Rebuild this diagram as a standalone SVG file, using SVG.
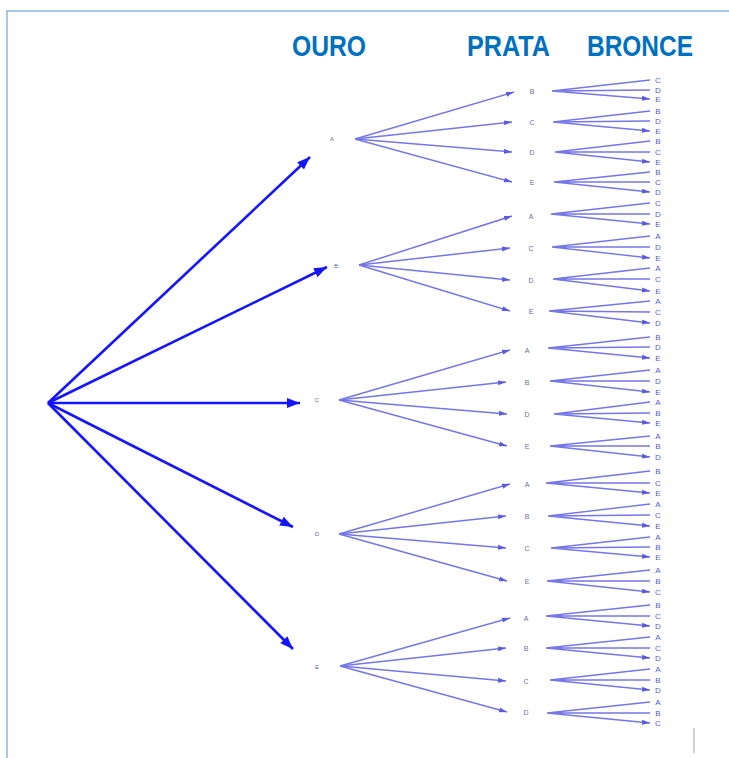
<svg xmlns="http://www.w3.org/2000/svg" width="729" height="758" viewBox="0 0 729 758">
<defs>
<marker id="big" markerUnits="userSpaceOnUse" markerWidth="14" markerHeight="10" refX="13" refY="5" orient="auto"><path d="M0,0 L13,5 L0,10 z" fill="#1414ff"/></marker>
<marker id="small" markerUnits="userSpaceOnUse" markerWidth="9" markerHeight="6" refX="8" refY="3" orient="auto"><path d="M0,0.5 L8,3 L0,5.5 z" fill="#5a5ae6"/></marker>
<style>
.hdr{font-family:"Liberation Sans Narrow","Liberation Sans",sans-serif;font-weight:bold;font-size:29px;fill:#0070c0}
.l1{stroke:#1414ff;stroke-width:2.6;fill:none;marker-end:url(#big)}
.l2{stroke:#7676e6;stroke-width:1.5;fill:none;marker-end:url(#small)}
.l3{stroke:#7676e6;stroke-width:1.4;fill:none;marker-end:url(#small)}
.t1{font-family:"Liberation Sans",sans-serif;font-size:6px;fill:#6a6a9c;text-anchor:middle}
.t2{font-family:"Liberation Sans",sans-serif;font-size:7px;fill:#6e6e94;text-anchor:middle}
.t3{font-family:"Liberation Sans",sans-serif;font-size:8px;fill:#5a5ad8;text-anchor:middle}
</style>
</defs>
<rect width="729" height="758" fill="#ffffff"/>
<g id="frame">
<path d="M7,758 L7,11 L729,11" fill="none" stroke="#8db3e2" stroke-width="1.5"/>
<path d="M694,728 L694,753" stroke="#a0a0a0" stroke-width="1"/>
</g>
<g id="headers">
<text class="hdr" x="292" y="56" textLength="74" lengthAdjust="spacingAndGlyphs">OURO</text>
<text class="hdr" x="467" y="56" textLength="83" lengthAdjust="spacingAndGlyphs">PRATA</text>
<text class="hdr" x="587" y="56" textLength="106" lengthAdjust="spacingAndGlyphs">BRONCE</text>
</g>
<g id="connectors">
<path class="l1" d="M48,403 L310,157"/>
<path class="l1" d="M48,403 L327,267"/>
<path class="l1" d="M48,403 L300,403"/>
<path class="l1" d="M48,403 L293,527"/>
<path class="l1" d="M48,403 L293,649"/>

<path class="l2" d="M355,139 L514,92"/>
<path class="l2" d="M355,139 L512,122"/>
<path class="l2" d="M355,139 L512,152"/>
<path class="l2" d="M355,139 L512,182"/>
<path class="l2" d="M359,265 L512,216"/>
<path class="l2" d="M359,265 L510,248"/>
<path class="l2" d="M359,265 L510,280"/>
<path class="l2" d="M359,265 L510,311"/>
<path class="l2" d="M339,400 L510,350"/>
<path class="l2" d="M339,400 L506,382"/>
<path class="l2" d="M339,400 L507,414"/>
<path class="l2" d="M339,400 L507,446"/>
<path class="l2" d="M339,534 L510,484"/>
<path class="l2" d="M339,534 L506,516"/>
<path class="l2" d="M339,534 L506,548"/>
<path class="l2" d="M339,534 L507,581"/>
<path class="l2" d="M340,666 L510,618"/>
<path class="l2" d="M340,666 L506,648"/>
<path class="l2" d="M340,666 L506,681"/>
<path class="l2" d="M340,666 L507,712"/>

<path class="l3" d="M552,91 L650,80 M552,91 L650,90 M552,91 L650,99"/>
<path class="l3" d="M553,122 L650,111 M553,122 L650,121 M553,122 L650,131"/>
<path class="l3" d="M555,152 L650,141 M555,152 L650,152 M555,152 L650,162"/>
<path class="l3" d="M554,182 L650,172 M554,182 L650,182 M554,182 L650,192"/>
<path class="l3" d="M551,214 L650,203 M551,214 L650,214 M551,214 L650,224"/>
<path class="l3" d="M552,247 L650,236 M552,247 L650,247 M552,247 L650,258"/>
<path class="l3" d="M553,279 L650,268 M553,279 L650,279 M553,279 L650,291"/>
<path class="l3" d="M549,311 L650,301 M549,311 L650,312 M549,311 L650,323"/>
<path class="l3" d="M548,348 L650,337 M548,348 L650,347 M548,348 L650,358"/>
<path class="l3" d="M550,381 L650,370 M550,381 L650,381 M550,381 L650,392"/>
<path class="l3" d="M554,414 L650,402 M554,414 L650,413 M554,414 L650,423"/>
<path class="l3" d="M550,446 L650,436 M550,446 L650,446 M550,446 L650,457"/>
<path class="l3" d="M546,483 L650,471 M546,483 L650,483 M546,483 L650,493"/>
<path class="l3" d="M548,516 L650,504 M548,516 L650,515 M548,516 L650,526"/>
<path class="l3" d="M551,548 L650,537 M551,548 L650,547 M551,548 L650,557"/>
<path class="l3" d="M547,581 L650,570 M547,581 L650,581 M547,581 L650,592"/>
<path class="l3" d="M546,616 L650,605 M546,616 L650,616 M546,616 L650,626"/>
<path class="l3" d="M546,648 L650,637 M546,648 L650,648 M546,648 L650,658"/>
<path class="l3" d="M550,680 L650,669 M550,680 L650,680 M550,680 L650,690"/>
<path class="l3" d="M547,713 L650,702 M547,713 L650,713 M547,713 L650,723"/>
</g>

<g id="n-A"><text class="t1" x="332" y="141">A</text></g>
<g id="n-B"><text class="t1" x="336" y="268">B</text></g>
<g id="n-C"><text class="t1" x="317" y="402">C</text></g>
<g id="n-D"><text class="t1" x="317" y="536">D</text></g>
<g id="n-E"><text class="t1" x="317" y="669">E</text></g>

<g id="n-AB"><text class="t2" x="532" y="94">B</text></g>
<g id="n-AC"><text class="t2" x="532" y="124.5">C</text></g>
<g id="n-AD"><text class="t2" x="532" y="154.5">D</text></g>
<g id="n-AE"><text class="t2" x="532" y="184.5">E</text></g>
<g id="n-BA"><text class="t2" x="531" y="218.5">A</text></g>
<g id="n-BC"><text class="t2" x="531" y="250.5">C</text></g>
<g id="n-BD"><text class="t2" x="531" y="282.5">D</text></g>
<g id="n-BE"><text class="t2" x="531" y="313.5">E</text></g>
<g id="n-CA"><text class="t2" x="527" y="352.5">A</text></g>
<g id="n-CB"><text class="t2" x="527" y="384.5">B</text></g>
<g id="n-CD"><text class="t2" x="527" y="416.5">D</text></g>
<g id="n-CE"><text class="t2" x="527" y="448.5">E</text></g>
<g id="n-DA"><text class="t2" x="527" y="486.5">A</text></g>
<g id="n-DB"><text class="t2" x="527" y="518.5">B</text></g>
<g id="n-DC"><text class="t2" x="527" y="550.5">C</text></g>
<g id="n-DE"><text class="t2" x="527" y="583.5">E</text></g>
<g id="n-EA"><text class="t2" x="526" y="620.5">A</text></g>
<g id="n-EB"><text class="t2" x="526" y="650.5">B</text></g>
<g id="n-EC"><text class="t2" x="526" y="683.5">C</text></g>
<g id="n-ED"><text class="t2" x="526" y="714.5">D</text></g>

<g id="leaves-AB"><text class="t3" x="658" y="83">C</text><text class="t3" x="658" y="93">D</text><text class="t3" x="658" y="102">E</text></g>
<g id="leaves-AC"><text class="t3" x="658" y="114">B</text><text class="t3" x="658" y="124">D</text><text class="t3" x="658" y="134">E</text></g>
<g id="leaves-AD"><text class="t3" x="658" y="144">B</text><text class="t3" x="658" y="155">C</text><text class="t3" x="658" y="165">E</text></g>
<g id="leaves-AE"><text class="t3" x="658" y="175">B</text><text class="t3" x="658" y="185">C</text><text class="t3" x="658" y="195">D</text></g>
<g id="leaves-BA"><text class="t3" x="658" y="206">C</text><text class="t3" x="658" y="217">D</text><text class="t3" x="658" y="227">E</text></g>
<g id="leaves-BC"><text class="t3" x="658" y="239">A</text><text class="t3" x="658" y="250">D</text><text class="t3" x="658" y="261">E</text></g>
<g id="leaves-BD"><text class="t3" x="658" y="271">A</text><text class="t3" x="658" y="282">C</text><text class="t3" x="658" y="294">E</text></g>
<g id="leaves-BE"><text class="t3" x="658" y="304">A</text><text class="t3" x="658" y="315">C</text><text class="t3" x="658" y="326">D</text></g>
<g id="leaves-CA"><text class="t3" x="658" y="340">B</text><text class="t3" x="658" y="350">D</text><text class="t3" x="658" y="361">E</text></g>
<g id="leaves-CB"><text class="t3" x="658" y="373">A</text><text class="t3" x="658" y="384">D</text><text class="t3" x="658" y="395">E</text></g>
<g id="leaves-CD"><text class="t3" x="658" y="405">A</text><text class="t3" x="658" y="416">B</text><text class="t3" x="658" y="426">E</text></g>
<g id="leaves-CE"><text class="t3" x="658" y="439">A</text><text class="t3" x="658" y="449">B</text><text class="t3" x="658" y="460">D</text></g>
<g id="leaves-DA"><text class="t3" x="658" y="474">B</text><text class="t3" x="658" y="486">C</text><text class="t3" x="658" y="496">E</text></g>
<g id="leaves-DB"><text class="t3" x="658" y="507">A</text><text class="t3" x="658" y="518">C</text><text class="t3" x="658" y="529">E</text></g>
<g id="leaves-DC"><text class="t3" x="658" y="540">A</text><text class="t3" x="658" y="550">B</text><text class="t3" x="658" y="560">E</text></g>
<g id="leaves-DE"><text class="t3" x="658" y="573">A</text><text class="t3" x="658" y="584">B</text><text class="t3" x="658" y="595">C</text></g>
<g id="leaves-EA"><text class="t3" x="658" y="608">B</text><text class="t3" x="658" y="619">C</text><text class="t3" x="658" y="629">D</text></g>
<g id="leaves-EB"><text class="t3" x="658" y="640">A</text><text class="t3" x="658" y="651">C</text><text class="t3" x="658" y="661">D</text></g>
<g id="leaves-EC"><text class="t3" x="658" y="672">A</text><text class="t3" x="658" y="683">B</text><text class="t3" x="658" y="693">D</text></g>
<g id="leaves-ED"><text class="t3" x="658" y="705">A</text><text class="t3" x="658" y="716">B</text><text class="t3" x="658" y="726">C</text></g>
</svg>
